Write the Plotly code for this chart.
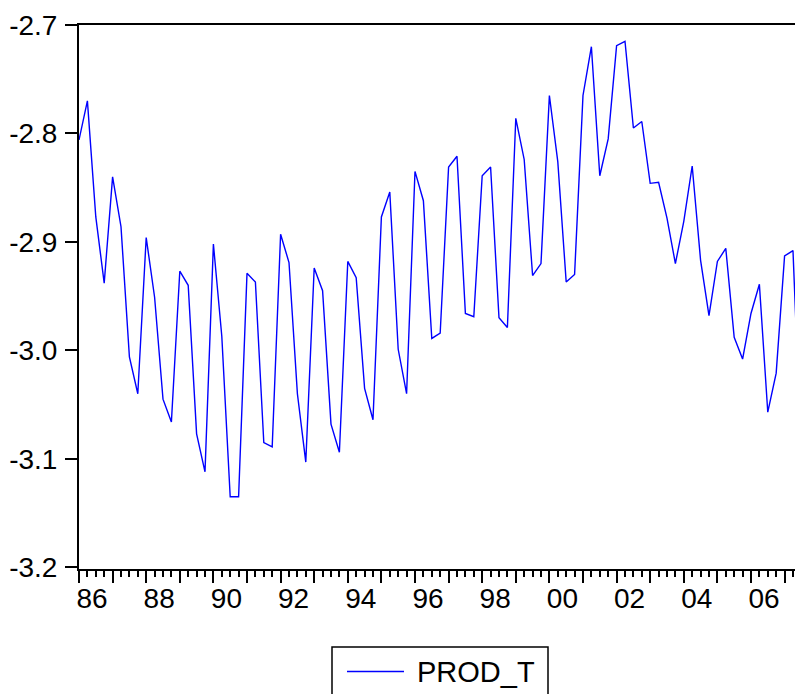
import pandas as pd
import plotly.graph_objects as go

series_name = "PROD_T"
start_period = "1986Q1"
prod_t = [
    -2.806, -2.770, -2.877, -2.938, -2.840, -2.886, -3.006, -3.040,
    -2.896, -2.951, -3.045, -3.066, -2.927, -2.940, -3.077, -3.112,
    -2.902, -2.987, -3.135, -3.135, -2.929, -2.937, -3.085, -3.089,
    -2.893, -2.919, -3.040, -3.103, -2.924, -2.945, -3.068, -3.094,
    -2.918, -2.933, -3.035, -3.064, -2.877, -2.854, -2.999, -3.040,
    -2.835, -2.862, -2.989, -2.984, -2.831, -2.821, -2.966, -2.969,
    -2.839, -2.831, -2.970, -2.979, -2.786, -2.824, -2.931, -2.920,
    -2.765, -2.826, -2.937, -2.930, -2.765, -2.720, -2.839, -2.805,
    -2.719, -2.715, -2.795, -2.789, -2.846, -2.845, -2.878, -2.920,
    -2.881, -2.830, -2.917, -2.968, -2.918, -2.906, -2.988, -3.008,
    -2.966, -2.939, -3.057, -3.021, -2.913, -2.908, -3.100,
]
year_ticks = list(range(1986, 2008))
year_labels = [f"{y % 100:02d}" if y % 2 == 0 else "" for y in year_ticks]
y_ticks = [-3.2, -3.1, -3.0, -2.9, -2.8, -2.7]
y_labels = ["-3.2", "-3.1", "-3.0", "-2.9", "-2.8", "-2.7"]

periods = pd.period_range(start_period, periods=len(prod_t), freq="Q")
x_vals = [p.year + (p.quarter - 1) / 4 for p in periods]

W, H = 795, 694
ML, MT, MB = 79, 25, 125
PW, PH = W - ML, H - MT - MB

def px_x(px):
    return (px - ML) / PW

def px_y(py):
    return (H - MB - py) / PH

fig = go.Figure()
fig.add_trace(go.Scatter(
    x=x_vals, y=prod_t, mode="lines", name=series_name,
    line=dict(color="#0000FF", width=1.4), showlegend=False,
))

font = dict(family="Liberation Sans, Arial, sans-serif", size=28, color="black")

fig.update_layout(
    width=W, height=H,
    margin=dict(l=ML, r=0, t=MT, b=MB, autoexpand=False),
    paper_bgcolor="white", plot_bgcolor="white",
    font=font,
    xaxis=dict(
        range=[1986, 2007.31], showgrid=False, zeroline=False,
        showline=True, linecolor="black", linewidth=2, mirror=True,
        tickmode="array", tickvals=year_ticks, ticktext=year_labels,
        ticks="outside", ticklen=12, tickwidth=1.5, tickcolor="black",
        ticklabelshift=13, ticklabelstandoff=-9,
        minor=dict(dtick=0.25, tick0=1986, ticks="outside", ticklen=6,
                   tickwidth=1.5, tickcolor="black", showgrid=False),
        tickfont=font,
    ),
    yaxis=dict(
        range=[-3.2016, -2.7], showgrid=False, zeroline=False,
        showline=True, linecolor="black", linewidth=2,
        tickmode="array", tickvals=y_ticks, ticktext=y_labels,
        ticks="outside", ticklen=12, tickwidth=2, tickcolor="black",
        ticklabelstandoff=2,
        tickfont=font,
    ),
)

# legend box
fig.add_shape(type="rect", xref="paper", yref="paper",
              x0=px_x(332), x1=px_x(548), y0=px_y(647), y1=px_y(720),
              line=dict(color="black", width=1.5), fillcolor="white")
fig.add_shape(type="line", xref="paper", yref="paper",
              x0=px_x(347), x1=px_x(404), y0=px_y(671.5), y1=px_y(671.5),
              line=dict(color="#0000FF", width=1.4))
fig.add_annotation(text=series_name, xref="paper", yref="paper",
                   x=px_x(415), y=px_y(671.5), xanchor="left", yanchor="middle",
                   showarrow=False, font=dict(family=font["family"], size=29, color="black"))

fig.write_html("out.html")
